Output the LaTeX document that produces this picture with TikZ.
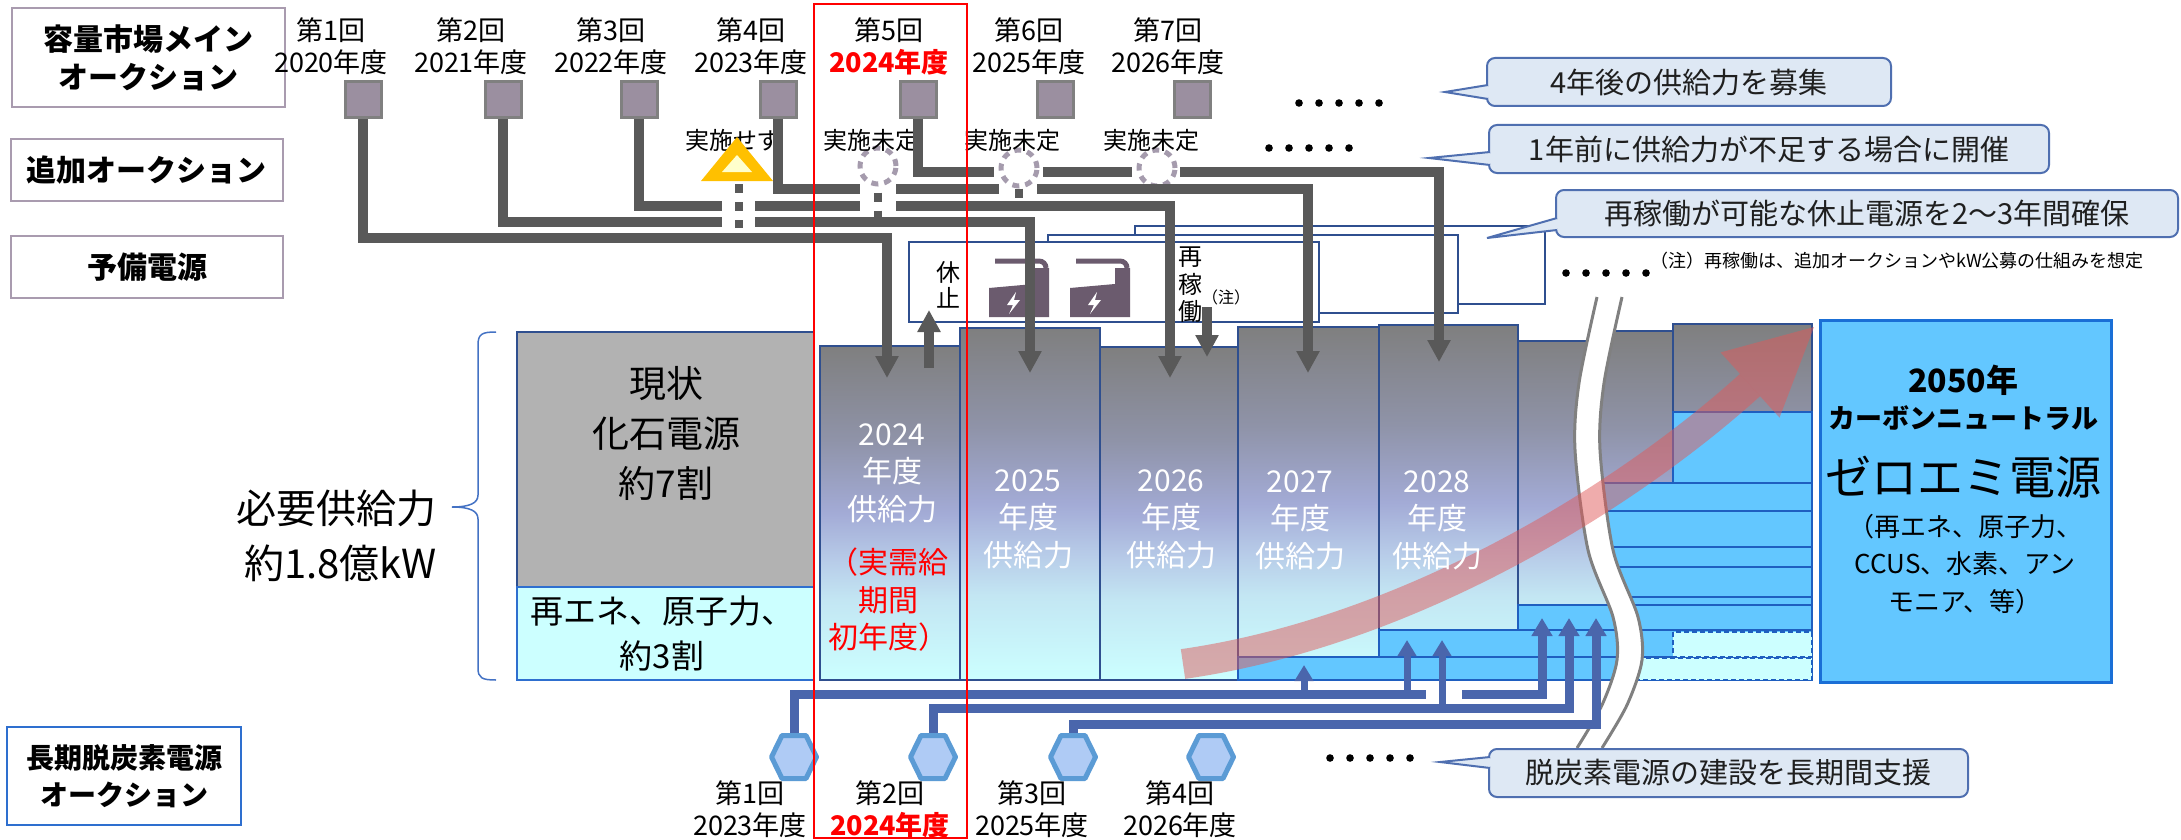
\documentclass[tikz,border=0pt]{standalone}
\usepackage{fontspec}
\setmainfont{Noto Sans CJK JP}
\usetikzlibrary{arrows.meta,shapes.geometric}

\definecolor{linegray}{HTML}{595959}
\definecolor{sqfill}{HTML}{9B8FA0}
\definecolor{sqedge}{HTML}{808080}
\definecolor{boxedge}{HTML}{A99BAF}
\definecolor{longedge}{HTML}{2E6FCF}
\definecolor{navyline}{HTML}{2F4F8F}
\definecolor{zeroblue}{HTML}{63C7FF}
\definecolor{rowline}{HTML}{1F5FC0}
\definecolor{bigedge}{HTML}{1A6FD6}
\definecolor{paleCyan}{HTML}{CCFFFF}
\definecolor{fossil}{HTML}{B2B2B2}
\definecolor{calloutfill}{HTML}{DEE8F4}
\definecolor{calloutedge}{HTML}{4F6FB0}
\definecolor{supplyblue}{HTML}{4A66AC}
\definecolor{hexfill}{HTML}{AFCBF5}
\definecolor{hexedge}{HTML}{5B9BD5}
\definecolor{warnorange}{HTML}{FFC000}
\definecolor{warninner}{HTML}{FFFFCC}
\definecolor{ringgray}{HTML}{A59BAD}
\definecolor{factory}{HTML}{6B5B6E}
\definecolor{redarrow}{HTML}{E05A5A}
\definecolor{breakgray}{HTML}{808080}
\definecolor{bracecol}{HTML}{4472C4}
\definecolor{bshA}{HTML}{CCFFFF}
\definecolor{bshB}{HTML}{C3E6F3}
\definecolor{bshC}{HTML}{B7CBE8}
\definecolor{bshD}{HTML}{A3ABD6}
\definecolor{bshE}{HTML}{8F93A8}
\definecolor{bshF}{HTML}{7F7F7F}

% supply bars: grey at the top fading to pale cyan at the bottom
\pgfdeclareverticalshading{barshade}{100bp}{color(0bp)=(bshA); color(25bp)=(bshA);
  color(37bp)=(bshB); color(43bp)=(bshC); color(50bp)=(bshD); color(61bp)=(bshE);
  color(75bp)=(bshF); color(100bp)=(bshF)}

\newcommand\setfs[2]{\fontsize{#1pt}{#2pt}\selectfont}

% small power-plant pictogram
\newcommand\factoryicon[1]{%
  \begin{scope}[shift={#1}]
    \fill[factory] (0,59) -- (0,30) -- (45,26) -- (45,10) -- (60,10) -- (60,59) -- cycle;
    \draw[factory, line width=5] (6,3) -- (50,3) to[out=0,in=90] (57,10);
    \fill[white] (27,34) -- (18,47) -- (24,47) -- (20,56) -- (31,42) -- (25,42) -- cycle;
  \end{scope}}

% hexagonal auction marker; #1 names the point at its top
\newcommand\hexmark[2]{%
  \begin{scope}[shift={#2}]
    \draw[draw=hexedge, fill=hexfill, line width=5, line join=round]
      (-22.5,0) -- (-12,-21.5) -- (12,-21.5) -- (22.5,0) -- (12,21.5) -- (-12,21.5) -- cycle;
    \coordinate (#1) at (0,-21.5);
  \end{scope}}

\begin{document}
\begin{tikzpicture}[x=1pt, y=-1pt,
  lblbox/.style={draw=#1, line width=2, fill=white, inner sep=0, align=center, font=\setfs{30}{38}\bfseries},
  toplbl/.style={font=\setfs{27}{30}, inner sep=0},
  smalllbl/.style={font=\setfs{24}{26}, inner sep=0},
  sqnode/.style={draw=sqedge, fill=sqfill, line width=3, minimum width=36, minimum height=36, inner sep=0},
  gline/.style={draw=linegray, line width=10},
  garrow/.style={gline, -{Triangle[width=22pt,length=22pt]}},
  gdash/.style={draw=linegray, line width=8, dash pattern=on 9 off 9},
  ring/.style={circle, draw=ringgray, line width=5, minimum size=36, inner sep=0, dash pattern=on 7 off 6},
  resbox/.style={draw=navyline, line width=2.5, fill=white},
  barfill/.style={shading=barshade, draw=navyline, line width=2.5},
  zrow/.style={fill=zeroblue, draw=rowline, line width=2.5},
  zdash/.style={fill=paleCyan, draw=rowline, line width=2, dash pattern=on 5 off 3},
  bartxt/.style={font=\setfs{30}{37.5}, text=white, align=center, inner sep=0},
  bline/.style={draw=supplyblue, line width=9, -{Triangle[width=20pt,length=18pt]}},
  barrow/.style={draw=supplyblue, line width=7, -{Triangle[width=18pt,length=16pt]}},
  callbox/.style={draw=calloutedge, fill=calloutfill, line width=2, rounded corners=8, inner sep=0, font=\setfs{29}{32}, text=black!88},
]
\useasboundingbox (0,0) rectangle (2181,840);
\fill[white] (0,0) rectangle (2181,840);

% ---------------- row headings
\node[lblbox=boxedge, minimum width=273, minimum height=99] (rowMain) at (148.5,57.5) {容量市場メイン\\オークション};
\node[lblbox=boxedge, minimum width=272, minimum height=62] (rowAdd) at (147,170) {追加オークション};
\node[lblbox=boxedge, minimum width=272, minimum height=62] (rowRes) at (147,267) {予備電源};
\node[lblbox=longedge, minimum width=234, minimum height=98, font=\setfs{28}{37}\bfseries] (rowLong) at (124,776) {長期脱炭素電源\\オークション};

% ---------------- main auction rounds
\foreach \x/\n/\yr in {331/1/2020, 471/2/2021, 611/3/2022, 751/4/2023, 1029/6/2025, 1168/7/2026} {
  \node[toplbl] (rn\n) at (\x,30) {第\n 回};
  \node[toplbl] (ry\n) at (\x,62) {\yr 年度};
}
\node[toplbl] (rn5) at (889,30) {第5回};
\node[toplbl, text=red, font=\setfs{27}{30}\bfseries] (ry5) at (889,62) {2024年度};
\foreach \x [count=\i] in {363,503,639,778,918,1055,1192}
  \node[sqnode] (sq\i) at (\x,100) {};

% ---------------- reserve power boxes
\draw[resbox] (1135,226) rectangle (1545,304);
\draw[resbox] (1048,235) rectangle (1458,313);
\draw[resbox] (909,242) rectangle (1319,322);
\factoryicon{(989,258)}
\factoryicon{(1070,258)}
\node[font=\setfs{24}{26}, align=center, inner sep=0] (kyushi) at (948,285) {休\\止};
\node[font=\setfs{24}{27.5}, align=center, inner sep=0] (saikado) at (1190,285) {再\\稼\\働};
\node[font=\setfs{16}{18}, inner sep=0] (chu1) at (1226,297) {（注）};

% ---------------- present supply
\draw[draw=navyline, line width=2.5, fill=fossil] (517,332) rectangle (814,587);
\draw[draw=longedge, line width=2.5, fill=paleCyan] (517,587) rectangle (814,680);
\node[font=\setfs{37}{50}, align=center, inner sep=0] (genjo) at (666,433) {現状\\化石電源\\約7割};
\node[font=\setfs{33}{45}, align=center, inner sep=0] (saiene) at (662,634) {再エネ、原子力、\\約3割};

% ---------------- yearly supply bars
\shadedraw[barfill] (820,346) rectangle (960,680);
\shadedraw[barfill] (960,328) rectangle (1100,680);
\shadedraw[barfill] (1100,347) rectangle (1238,680);
\shadedraw[barfill] (1238,327) rectangle (1379,680);
\shadedraw[barfill] (1379,325) rectangle (1518,680);
\shadedraw[barfill] (1518,680) -- (1518,341) -- (1605,341) -- (1605,331) -- (1673,331) -- (1673,680) -- cycle;
\shadedraw[barfill] (1673,324) rectangle (1812,680);

% zero-emission share growing year by year
\draw[zrow] (1238,657) rectangle (1812,680);
\draw[zrow] (1379,630) rectangle (1812,657);
\draw[zrow] (1518,605) rectangle (1812,630);
\draw[zrow] (1620,597) rectangle (1812,605);
\draw[zrow] (1615,567) rectangle (1812,597);
\draw[zrow] (1605,547) rectangle (1812,567);
\draw[zrow] (1598,511) rectangle (1812,547);
\draw[zrow] (1592,483) rectangle (1812,511);
\draw[zrow] (1673,412) rectangle (1812,483);
\draw[zdash] (1673,632) rectangle (1812,657);
\draw[zdash] (1633,658) rectangle (1812,680);

% 2050 target
\node[draw=bigedge, fill=zeroblue, line width=3, minimum width=291, minimum height=362, inner sep=0] (zero) at (1965.5,501) {};

% time break
\fill[white] plot[smooth] coordinates {(1597,297) (1579,383) (1575,450) (1588,550) (1613,617) (1617,660) (1602,705) (1577,748)}
  -- plot[smooth] coordinates {(1602,748) (1627,705) (1642,660) (1638,617) (1613,550) (1600,450) (1604,383) (1622,297)} -- cycle;
\draw[breakgray, line width=3] plot[smooth] coordinates {(1597,297) (1579,383) (1575,450) (1588,550) (1613,617) (1617,660) (1602,705) (1577,748)};
\draw[breakgray, line width=3] plot[smooth] coordinates {(1622,297) (1604,383) (1600,450) (1613,550) (1638,617) (1642,660) (1627,705) (1602,748)};

% transition arrow
\draw[redarrow, line width=30, opacity=0.5] (1183,664) .. controls (1420,630) and (1639,486) .. (1750,385);
\fill[redarrow, opacity=0.5] (1814,327) -- (1779.5,417.6) -- (1720.5,352.4) -- cycle;

% bar captions
\node[bartxt] (c24) at (892,473) {2024\\年度\\供給力};
\node[bartxt, text=red] (c24r) at (888,600) {（実需給\\期間\\初年度）};
\node[bartxt] (c25) at (1028,519) {2025\\年度\\供給力};
\node[bartxt] (c26) at (1171,519) {2026\\年度\\供給力};
\node[bartxt] (c27) at (1300,520) {2027\\年度\\供給力};
\node[bartxt] (c28) at (1437,520) {2028\\年度\\供給力};

\node[font=\setfs{32}{34}\bfseries, inner sep=0] (z1) at (1963,380) {2050年};
\node[font=\setfs{27}{30}\bfseries, inner sep=0] (z2) at (1963,418) {カーボンニュートラル};
\node[font=\setfs{46}{50}, inner sep=0] (z3) at (1963,477) {ゼロエミ電源};
\node[font=\setfs{26}{37.5}, align=center, inner sep=0] (z4) at (1965,564) {（再エネ、原子力、\\CCUS、水素、アン\\モニア、等）};

% ---------------- additional auctions
\node[ring] (ring5) at (878,166) {};
\node[ring] (ring6) at (1019,168) {};
\node[ring] (ring7) at (1157,168) {};
\node[smalllbl] (nx4) at (733,140) {実施せず};
\node[smalllbl] (nx5) at (871,140) {実施未定};
\node[smalllbl] (nx6) at (1012,140) {実施未定};
\node[smalllbl] (nx7) at (1151,140) {実施未定};
\fill[warnorange] (737,137) -- (773,181) -- (701,181) -- cycle;
\fill[warninner] (737,155) -- (752,172) -- (722,172) -- cycle;
\coordinate (triFoot) at (739,184);
\draw[gdash] (triFoot) -- (739,228);
\draw[gdash] (ring5.south) ++(0,6) -- (878,217);
\draw[gdash] (ring6.south) -- (1019,198);
\draw[gdash] (ring7.south) ++(0,2) -- (1157,194);

% ---------------- capacity procured for each delivery year
\coordinate (t24) at (887,378);
\coordinate (t25) at (1030,373);
\coordinate (t26) at (1170,378);
\coordinate (t27) at (1308,373);
\coordinate (t28) at (1439,362);
\draw[garrow] (sq1.south) |- (887,238) -- (t24);
\draw[garrow] (sq2.south) |- (722,222) (755,222) -| (t25);
\draw[garrow] (sq3.south) |- (722,206) (755,206) -- (860,206) (896,206) -| (t26);
\draw[garrow] (sq4.south) |- (860,189) (896,189) -- (999,189) (1037,189) -| (t27);
\draw[garrow] (sq5.south) |- (994,172) (1043,172) -- (1132,172) (1180,172) -| (t28);
\coordinate (k1) at (929,368);
\coordinate (k2) at (929,310);
\draw[garrow] (k1) -- (k2);
\coordinate (s1) at (1207,307);
\coordinate (s2) at (1207,357);
\draw[garrow] (s1) -- (s2);

% ---------------- long-term decarbonisation auctions
\coordinate (u1) at (1542,618);
\coordinate (u2) at (1569,618);
\coordinate (u3) at (1596,618);
\coordinate (hx1) at (794,736);
\coordinate (hx2) at (933,736);
\coordinate (hx3) at (1073,736);
\draw[bline] (hx1) |- (1426,694) (1462,694) -| (u1);
\draw[bline] (hx2) |- (1569,708) -- (u2);
\draw[bline] (hx3) |- (1596,724) -- (u3);
\coordinate (j1) at (1304,694);
\coordinate (j2) at (1407,694);
\coordinate (j3) at (1442,708);
\draw[barrow] (j1) -- (1304,665);
\draw[barrow] (j2) -- (1407,640);
\draw[barrow] (j3) -- (1442,640);
\hexmark{hxA}{(794,757)}
\hexmark{hxB}{(933,757)}
\hexmark{hxC}{(1073,757)}
\hexmark{hxD}{(1211,757)}

\node[toplbl] (bn1) at (750,793) {第1回};
\node[toplbl] (by1) at (750,825) {2023年度};
\node[toplbl] (bn2) at (890,793) {第2回};
\node[toplbl, text=red, font=\setfs{27}{30}\bfseries] (by2) at (890,825) {2024年度};
\node[toplbl] (bn3) at (1032,793) {第3回};
\node[toplbl] (by3) at (1032,825) {2025年度};
\node[toplbl] (bn4) at (1180,793) {第4回};
\node[toplbl] (by4) at (1180,825) {2026年度};

% ---------------- continuation dots
\foreach \k in {0,...,4} {
  \fill (1299+20*\k,103) circle (3.8);
  \fill (1269+20*\k,148) circle (3.8);
  \fill (1566+20*\k,273) circle (3.8);
  \fill (1330+20*\k,758) circle (3.8);
}

% ---------------- explanatory callouts
\node[callbox, minimum width=404, minimum height=48] (cb1) at (1689,82) {4年後の供給力を募集};
\fill[calloutfill, draw=calloutedge, line width=2] (1488,85) -- (1445,92) -- (1488,99);
\fill[calloutfill] (1486,87) rectangle (1491,97);
\node[callbox, minimum width=560, minimum height=48] (cb2) at (1769,149) {1年前に供給力が不足する場合に開催};
\fill[calloutfill, draw=calloutedge, line width=2] (1490,152) -- (1429,158) -- (1490,165);
\fill[calloutfill] (1488,154) rectangle (1493,163);
\node[callbox, minimum width=622, minimum height=47] (cb3) at (1867,213.5) {再稼働が可能な休止電源を2～3年間確保};
\fill[calloutfill, draw=calloutedge, line width=2] (1557,218) -- (1487,238) -- (1557,230);
\fill[calloutfill] (1555,220) rectangle (1560,228);
\node[callbox, minimum width=479, minimum height=48] (cb4) at (1728.5,773) {脱炭素電源の建設を長期間支援};
\fill[calloutfill, draw=calloutedge, line width=2] (1490,757) -- (1440,762) -- (1490,768);
\fill[calloutfill] (1488,759) rectangle (1493,766);
\node[font=\setfs{18}{20}, anchor=west, inner sep=0] (note) at (1650,261) {（注）再稼働は、追加オークションやkW公募の仕組みを想定};

% ---------------- required supply
\draw[bracecol, line width=1.5] (496,332) .. controls (482,332) and (478,334) .. (478,345) -- (478,495)
  .. controls (478,503) and (470,507) .. (452,507) .. controls (470,507) and (478,511) .. (478,519)
  -- (478,668) .. controls (478,678) and (482,680) .. (496,680);
\node[font=\setfs{40}{55}, align=right, anchor=east, inner sep=0] (need) at (437,536) {必要供給力\\約1.8億kW};

% ---------------- highlighted year
\draw[red, line width=2.5] (814,4) rectangle (967,838);
\end{tikzpicture}
\end{document}
